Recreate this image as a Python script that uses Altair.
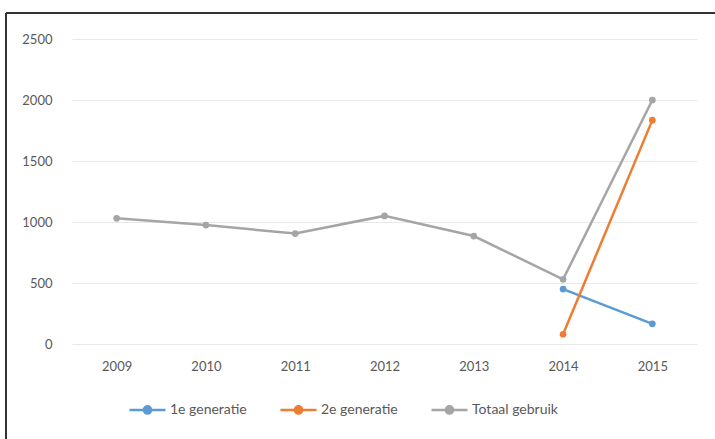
import altair as alt
import pandas as pd

# Yearly figures per series
years = ["2009", "2010", "2011", "2012", "2013", "2014", "2015"]
first_gen = [None, None, None, None, None, 450, 165]
second_gen = [None, None, None, None, None, 80, 1835]
total_use = [1030, 975, 905, 1050, 885, 530, 2000]

series_names = ["1e generatie", "2e generatie", "Totaal gebruik"]
series_colors = ["#5B9BD5", "#ED7D31", "#A5A5A5"]
y_ticks = [0, 500, 1000, 1500, 2000, 2500]

rows = []
for name, values in zip(series_names, [first_gen, second_gen, total_use]):
    for year, v in zip(years, values):
        if v is not None:
            rows.append({"jaar": year, "reeks": name, "waarde": v})
df = pd.DataFrame(rows)

FONT = "Lato"
TEXT = "#595959"

# line with a dot, used as legend symbol
legend_symbol = (
    "M -1 0 L 1 0 "
    "M 0.2 0 A 0.2 0.2 0 1 1 -0.2 0 A 0.2 0.2 0 1 1 0.2 0 Z"
)

lines = alt.Chart(df).mark_line(
    strokeWidth=2.5,
    point=alt.OverlayMarkDef(filled=True, size=45),
).encode(
    x=alt.X(
        "jaar:O",
        sort=years,
        scale=alt.Scale(domain=years, paddingInner=0, paddingOuter=0.5),
        axis=alt.Axis(
            title=None, labelAngle=0, ticks=False, domain=False,
            labelPadding=16, labelFontSize=13, labelColor=TEXT, labelFont=FONT,
        ),
    ),
    y=alt.Y(
        "waarde:Q",
        scale=alt.Scale(domain=[0, 2500], nice=False),
        axis=alt.Axis(
            title=None, values=y_ticks, ticks=False, domain=False, format="d",
            labelPadding=20, labelFontSize=13, labelColor=TEXT, labelFont=FONT,
            gridColor="#E8E8E8", gridWidth=1,
        ),
    ),
    color=alt.Color(
        "reeks:N",
        scale=alt.Scale(domain=series_names, range=series_colors),
        legend=alt.Legend(
            title=None, orient="none", direction="horizontal",
            legendX=56, legendY=351,
            symbolType=legend_symbol, symbolSize=1300, symbolStrokeWidth=2.5,
            labelFontSize=14, labelColor=TEXT, labelFont=FONT,
            columnPadding=28, labelOffset=3,
        ),
    ),
)

# frame lines along the top and left edge
frame_top = alt.Chart(df).mark_rule(color="#333333", strokeWidth=1.5).encode(
    x=alt.value(-66), x2=alt.value(660), y=alt.value(-26)
)
frame_left = alt.Chart(df).mark_rule(color="#333333", strokeWidth=1.5).encode(
    x=alt.value(-66), y=alt.value(-26), y2=alt.value(420)
)

chart = alt.layer(lines, frame_top, frame_left).properties(
    width=625,
    height=305,
    padding={"left": 72, "top": 39, "right": 18, "bottom": 95},
    autosize=alt.AutoSizeParams(type="none"),
    background="white",
).configure_view(stroke=None)

chart.save("out.html", embed_options={"renderer": "svg", "actions": False})
